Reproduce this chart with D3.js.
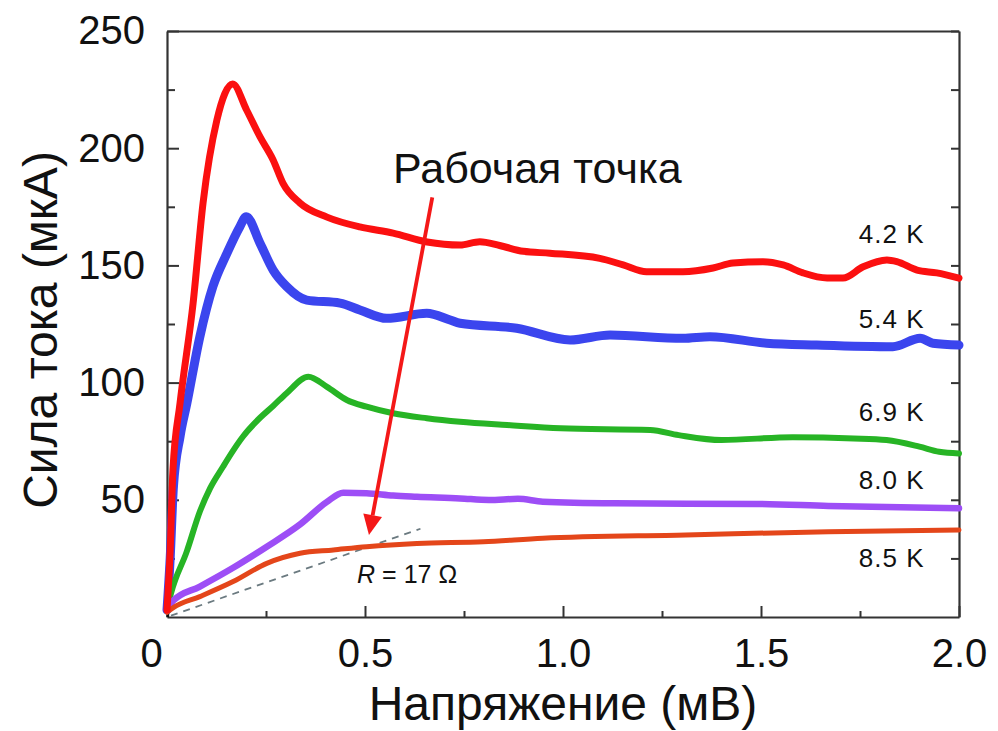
<!DOCTYPE html>
<html><head><meta charset="utf-8">
<script src="https://cdn.jsdelivr.net/npm/d3@7"></script>
<style>body{margin:0;background:#fff}text{font-family:"Liberation Sans",Arial,sans-serif;fill:#111}</style>
</head><body><svg id="c" width="998" height="731"></svg>
<script>
// ---- data (voltage in mV, current in µA) ----
const v42 = [0,0.008,0.015,0.033,0.066,0.091,0.126,0.166,0.201,0.235,0.268,0.293,0.336,0.404,0.487,0.571,0.657,0.74,0.79,0.84,0.9,0.967,1.093,1.152,1.211,1.303,1.379,1.429,1.505,1.556,1.606,1.667,1.707,1.758,1.818,1.843,1.894,1.944,2.0];
const i42 = [3,28.6,62.7,91.3,134,176.6,212,227.4,216.3,204.8,195,185,176.6,170.6,166.4,163.8,160,158.7,160.1,158.5,156,155.2,153,150.2,147.3,147.3,148.9,151,151.6,150.2,146.8,144.6,144.6,149.4,152.3,151.6,148,146.8,144.6];
const v54 = [0,0.008,0.016,0.033,0.05,0.083,0.116,0.151,0.184,0.2,0.235,0.268,0.302,0.353,0.437,0.487,0.555,0.656,0.715,0.74,0.883,1.018,1.119,1.303,1.371,1.514,1.641,1.833,1.902,1.934,2.0];
const i54 = [3,25,55,77,91,119.6,141,155,166.5,170.8,159.4,148,141,135.2,133.9,131,127.4,129.6,126.7,125.3,123.2,118.2,120.3,118.9,119.6,116.8,116,115.3,118.9,116.8,116];
const v69 = [0,0.01,0.05,0.083,0.109,0.141,0.167,0.192,0.235,0.268,0.302,0.357,0.403,0.454,0.504,0.571,0.656,0.74,0.859,0.994,1.22,1.292,1.4,1.58,1.734,1.817,1.9,1.95,2.0];
const i69 = [3,10,28,45,55,64,71,77,85,90,95.5,102.5,98.3,92.6,89.7,86.9,84.8,83.3,81.9,80.5,79.8,77.6,75.5,76.7,76.2,75.5,72.7,70.5,69.8];
const v80 = [0,0.016,0.083,0.167,0.252,0.336,0.403,0.445,0.504,0.571,0.631,0.74,0.813,0.886,0.949,1.129,1.49,1.67,2.0];
const i80 = [3,7,13,21,30,39.5,49,53,52.8,51.8,51.3,50.6,49.9,50.4,49.2,48.5,48.2,47.4,46.4];
const v85 = [0,0.016,0.083,0.167,0.252,0.336,0.42,0.504,0.631,0.799,0.949,1.31,1.67,2.0];
const i85 = [2,4,8.7,15.1,22.9,27.2,28.6,30,31.4,32.1,33.6,35,36.4,37.1];
const tempLabels = ["4.2 K","5.4 K","6.9 K","8.0 K","8.5 K"];
const labelCurrent = [159.5,123.5,83.5,54.5,21.5];
const xTicks = [0,0.5,1.0,1.5,2.0];
const xTickLabels = ["0","0.5","1.0","1.5","2.0"];
const yTicks = [50,100,150,200,250];
const fitV = [0.01,0.64];          // R = 17 Ω line: I = V/R
const fitR = 17;                   // Ω
const steepV = [0.002,0.03], steepI = [0,76];
const arrowFrom = [0.67,179], arrowTo = [0.51,35];

const W=998,H=731, L=167,T=31,R=959,B=617;
const svg=d3.select("#c");
const x=d3.scaleLinear().domain([0,2]).range([L,R]);
const y=d3.scaleLinear().domain([0,250]).range([B,T]);

const axC="#333";
const xMinor=d3.range(0.25,2,0.5), yMinor=d3.range(25,250,50);
const g=svg.append("g");
// bottom axis
const xa=d3.axisBottom(x).tickValues(xTicks).tickFormat((d,i)=>xTickLabels[i]).tickSizeInner(-11).tickSizeOuter(0).tickPadding(22);
const gx=g.append("g").attr("transform",`translate(0,${B})`).call(xa);
gx.selectAll("text").attr("font-size",40).attr("dy","0.71em").attr("dx",(d,i)=>i===0?-16:0);
g.append("g").attr("transform",`translate(0,${B})`).call(d3.axisBottom(x).tickValues(xMinor).tickSize(-6).tickFormat("")).select(".domain").remove();
// left axis
const ya=d3.axisLeft(y).tickValues(yTicks).tickSizeInner(-12).tickSizeOuter(0).tickPadding(22);
const gy=g.append("g").attr("transform",`translate(${L},0)`).call(ya);
gy.selectAll("text").attr("font-size",40);
g.append("g").attr("transform",`translate(${L},0)`).call(d3.axisLeft(y).tickValues(yMinor).tickSize(-8).tickFormat("")).select(".domain").remove();
// right axis
g.append("g").attr("transform",`translate(${R},0)`).call(d3.axisRight(y).tickValues(yTicks.concat(yMinor)).tickSize(-8).tickFormat("").tickSizeOuter(0));
// top line
g.append("g").attr("transform",`translate(0,${T})`).call(d3.axisTop(x).tickValues([]).tickSizeOuter(0));
g.selectAll(".domain").attr("stroke",axC).attr("stroke-width",2.2);
g.selectAll(".tick line").attr("stroke",axC).attr("stroke-width",2);
g.selectAll(".tick text").attr("fill","#111").attr("font-family","Liberation Sans, Arial, sans-serif");

// fit line (dashed)
svg.append("line").attr("x1",x(fitV[0])).attr("y1",y(fitV[0]/fitR*1000)).attr("x2",x(fitV[1])).attr("y2",y(fitV[1]/fitR*1000))
  .attr("stroke","#6b7a80").attr("stroke-width",1.8).attr("stroke-dasharray","7,6");

const line=d3.line().x(d=>x(d[0])).y(d=>y(d[1])).curve(d3.curveMonotoneX);
const zip=(a,b)=>a.map((v,i)=>[v,b[i]]);
svg.append("path").attr("d",d3.line().x(d=>x(d[0])).y(d=>y(d[1]))(zip(steepV,steepI))).attr("stroke","#111").attr("stroke-width",2.5).attr("fill","none");
const series=[
  {v:v54,i:i54,c:"#3b45ee",w:9},
  {v:v69,i:i69,c:"#27b425",w:6},
  {v:v80,i:i80,c:"#9d4ef6",w:6.5},
  {v:v85,i:i85,c:"#e4461a",w:5},
  {v:v42,i:i42,c:"#fb1010",w:7},
];
series.forEach(s=>{
  svg.append("path").attr("d",line(zip(s.v,s.i))).attr("fill","none").attr("stroke",s.c).attr("stroke-width",s.w)
   .attr("stroke-linejoin","round").attr("stroke-linecap","round");
});

// temperature labels
tempLabels.forEach((t,k)=>{
  svg.append("text").attr("x",x(1.747)).attr("y",y(labelCurrent[k])).attr("font-size",26).attr("letter-spacing","1").text(t);
});
// R label
const rl=svg.append("text").attr("x",x(0.48)).attr("y",y(14.5)).attr("font-size",25);
rl.append("tspan").attr("font-style","italic").text("R");
rl.append("tspan").text(" = 17 \u03A9");

// arrow
const ax1=x(arrowFrom[0]),ay1=y(arrowFrom[1]),ax2=x(arrowTo[0]),ay2=y(arrowTo[1]);
const ang=Math.atan2(ay2-ay1,ax2-ax1), hl=20, hw=9.5;
const bx=ax2-hl*Math.cos(ang), by=ay2-hl*Math.sin(ang);
svg.append("line").attr("x1",ax1).attr("y1",ay1).attr("x2",bx).attr("y2",by).attr("stroke","#f41818").attr("stroke-width",3.8);
svg.append("path").attr("d",`M${ax2},${ay2}L${bx+hw*Math.sin(ang)},${by-hw*Math.cos(ang)}L${bx-hw*Math.sin(ang)},${by+hw*Math.cos(ang)}Z`).attr("fill","#f41818");
svg.append("text").attr("x",393).attr("y",183).attr("font-size",43).text("Рабочая точка");

// axis titles
svg.append("text").attr("x",(L+R)/2).attr("y",720).attr("text-anchor","middle").attr("font-size",48).text("Напряжение (мВ)");
svg.append("text").attr("transform",`translate(57,${(T+B)/2+6}) rotate(-90)`).attr("text-anchor","middle").attr("font-size",48).text("Сила тока (мкА)");
</script></body></html>
